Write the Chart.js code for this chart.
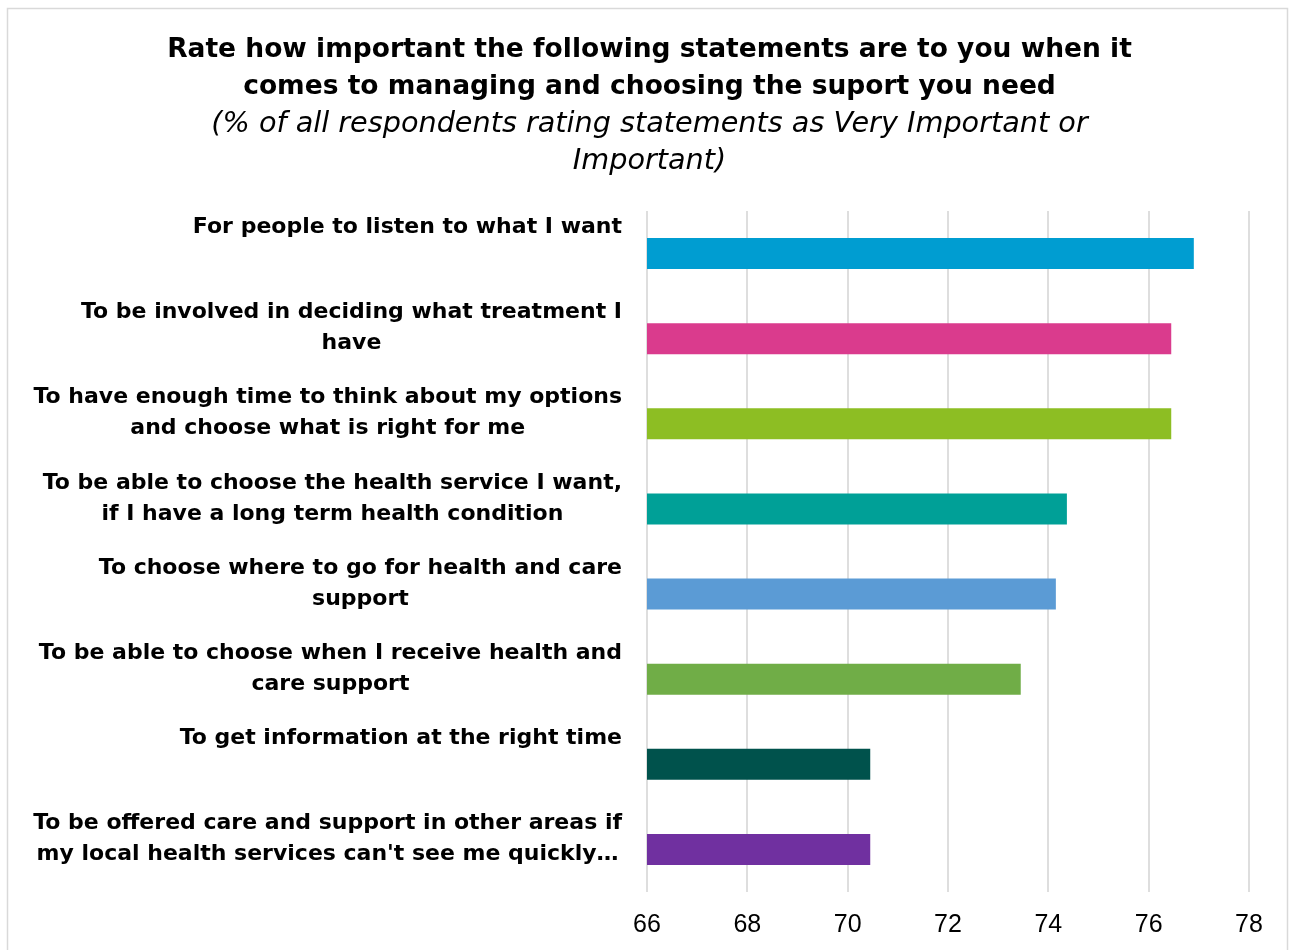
<!DOCTYPE html>
<html lang="en">
<head>
  <meta charset="UTF-8" />
  <title>Managing and choosing support</title>
  <script src="https://cdn.jsdelivr.net/npm/chart.js"></script>
  <style>
    body { margin: 0; background: #fff; }
    #wrap { position: relative; width: 1290px; height: 950px; }
  </style>
</head>
<body>
  <div id="wrap"><canvas id="importanceChart"></canvas></div>

  <script>
    // statements, top to bottom
    const statements = [
      ['For people to listen to what I want'],
      ['To be involved in deciding what treatment I', 'have'],
      ['To have enough time to think about my options', 'and choose what is right for me'],
      ['To be able to choose the health service I want,', 'if I have a long term health condition'],
      ['To choose where to go for health and care', 'support'],
      ['To be able to choose when I receive health and', 'care support'],
      ['To get information at the right time'],
      ['To be offered care and support in other areas if', 'my local health services can\'t see me quickly\u2026']
    ];
    // % rating Very Important or Important
    const pctImportant = [76.9, 76.45, 76.45, 74.37, 74.15, 73.45, 70.45, 70.45];
    const barColours = ['#009DD1', '#DA3B8D', '#8DBE23', '#00A097', '#5B9BD5', '#70AD47', '#00524C', '#7030A0'];
    const xTicks = [66, 68, 70, 72, 74, 76, 78];

    const titleLines = [
      'Rate how important the following statements are to you when it',
      'comes to managing and choosing the suport you need'
    ];
    const subtitleLines = [
      '(% of all respondents rating statements as Very Important or',
      'Important)'
    ];

    const LABEL_FONT = 'bold 22px "DejaVu Sans"';
    const LINE_H = 31;

    // outer frame of the chart box
    const framePlugin = {
      id: 'frame',
      beforeDraw(chart) {
        const ctx = chart.ctx;
        ctx.save();
        ctx.fillStyle = '#fff';
        ctx.fillRect(0, 0, chart.width, chart.height);
        ctx.strokeStyle = '#d9d9d9';
        ctx.lineWidth = 1.5;
        ctx.strokeRect(7.5, 8.5, 1280, 1000);
        ctx.restore();
      }
    };

    // category labels: block right-aligned, lines centred inside the block,
    // sitting at the top of each category band
    const statementLabels = {
      id: 'statementLabels',
      afterDraw(chart) {
        const ctx = chart.ctx;
        const y = chart.scales.y;
        const band = y.getPixelForValue(1) - y.getPixelForValue(0);
        const right = chart.chartArea.left - 25;
        ctx.save();
        ctx.font = LABEL_FONT;
        ctx.fillStyle = '#000';
        ctx.textAlign = 'center';
        ctx.textBaseline = 'middle';
        statements.forEach((lines, i) => {
          const w = Math.max(...lines.map(l => ctx.measureText(l).width));
          const top = y.getPixelForValue(i) - band / 2;
          lines.forEach((l, j) => {
            ctx.fillText(l, right - w / 2, top + 16.5 + j * LINE_H);
          });
        });
        ctx.restore();
      }
    };

    new Chart(document.getElementById('importanceChart'), {
      type: 'bar',
      data: {
        labels: statements,
        datasets: [{
          data: pctImportant,
          backgroundColor: barColours,
          borderWidth: 0,
          barPercentage: 0.365,
          categoryPercentage: 1
        }]
      },
      options: {
        indexAxis: 'y',
        responsive: true,
        maintainAspectRatio: false,
        animation: false,
        layout: { padding: { left: 50, right: 41, top: 0, bottom: 10 } },
        plugins: {
          legend: { display: false },
          tooltip: { enabled: false },
          title: {
            display: true,
            text: titleLines,
            color: '#000',
            font: { family: 'DejaVu Sans', size: 26.5, weight: 'bold', lineHeight: '37px' },
            padding: { top: 32, bottom: 0 }
          },
          subtitle: {
            display: true,
            text: subtitleLines,
            color: '#000',
            font: { family: 'DejaVu Sans', size: 28.7, style: 'italic', lineHeight: '37px' },
            padding: { top: 0, bottom: 31 }
          }
        },
        scales: {
          x: {
            min: xTicks[0],
            max: xTicks[xTicks.length - 1],
            afterBuildTicks: s => { s.ticks = xTicks.map(v => ({ value: v })); },
            afterFit: s => { s.height = 48; },
            grid: { color: '#dedede', lineWidth: 2, drawTicks: false },
            border: { display: false },
            ticks: {
              color: '#000',
              padding: 18,
              font: { family: 'Liberation Sans', size: 25 }
            }
          },
          y: {
            grid: { display: false, drawTicks: false },
            border: { display: false },
            ticks: { display: false },
            afterFit: s => { s.width = 597; }
          }
        }
      },
      plugins: [framePlugin, statementLabels]
    });
  </script>
</body>
</html>
